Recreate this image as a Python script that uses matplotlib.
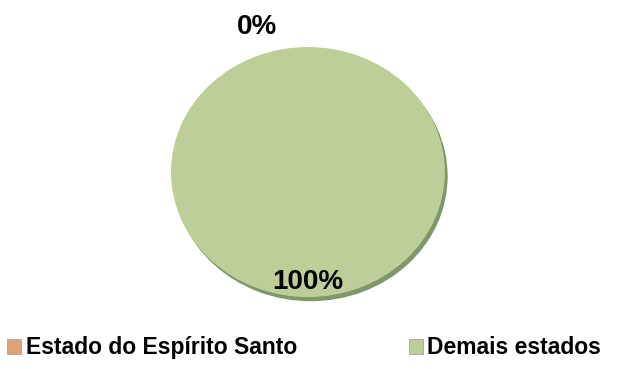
import matplotlib.pyplot as plt
import matplotlib.patches as mpatches
import matplotlib.patheffects as pe

# Dados do gráfico
categorias = ['Estado do Espírito Santo', 'Demais estados']
valores = [0, 100]
rotulos = ['0%', '100%']
cores = ['#DDA276', '#BDCE98']

plt.rcParams['font.family'] = ['Liberation Sans', 'DejaVu Sans']

fig = plt.figure(figsize=(6.21, 3.69), dpi=100)
ax = fig.add_axes([0.2754, 0.195, 0.441, 0.6775])

wedges, _ = ax.pie(valores, colors=cores, startangle=90, counterclock=False,
                   radius=1, wedgeprops=dict(linewidth=0))
for w in wedges:
    w.set_path_effects([pe.SimplePatchShadow(offset=(2, -3), shadow_rgbFace='#4c6a2a', alpha=0.7),
                        pe.Normal()])
ax.set_aspect('auto')
ax.set_xlim(-1, 1)
ax.set_ylim(-1, 1)
ax.axis('off')

# rótulos das fatias
pos = [(-0.37, 1.16), (0.0, -0.88)]
for (x, y), txt in zip(pos, rotulos):
    ax.text(x, y, txt, ha='center', va='center', fontsize=20, fontweight='bold',
            clip_on=False)

handles = [mpatches.Patch(facecolor=c, edgecolor='#999999', linewidth=0.5) for c in cores]
fig.legend(handles, categorias, loc='center', bbox_to_anchor=(0.49, 0.057), ncol=2,
           frameon=False, prop=dict(size=16.5, weight='bold'), handlelength=0.6,
           handleheight=0.6, handletextpad=0.2, columnspacing=4.9)

fig.savefig('out.png', dpi=100)
